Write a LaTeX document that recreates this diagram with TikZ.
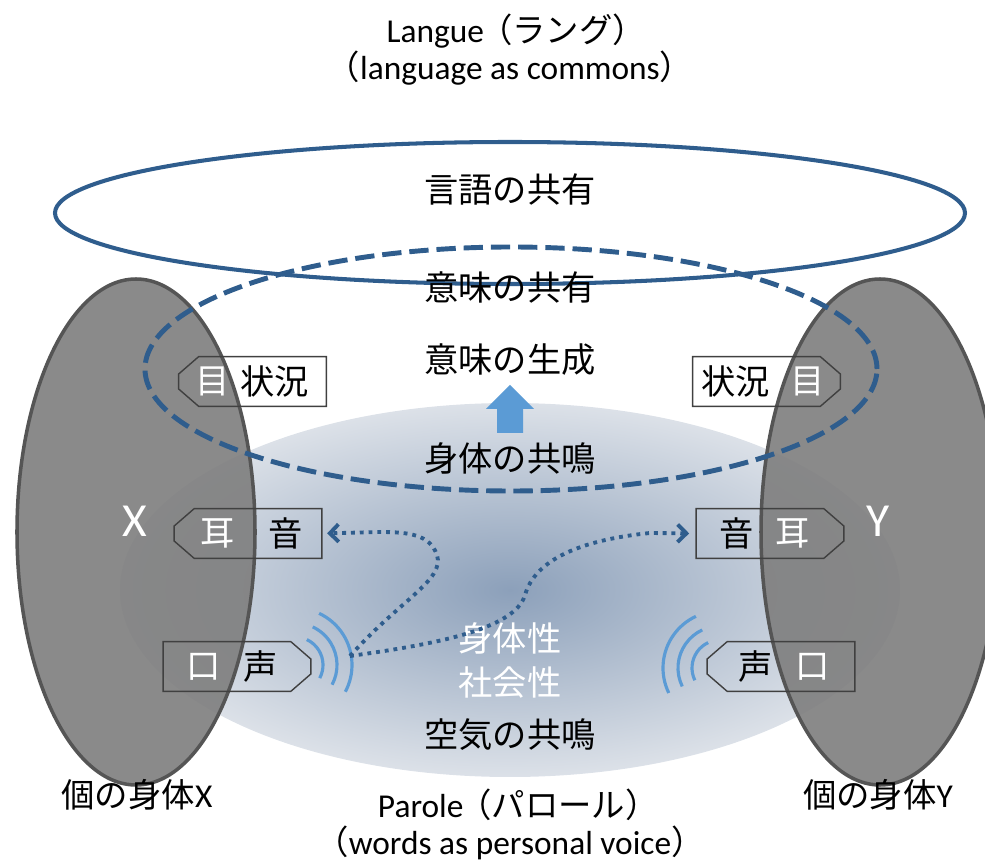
\documentclass[tikz,border=0pt]{standalone}
\usepackage{fontspec}
\setmainfont{Carlito}
\newfontfamily\jpfont{Noto Sans CJK JP}
\usetikzlibrary{arrows.meta,calc}
\definecolor{bluscuro}{RGB}{47,93,141}
\definecolor{bluchiaro}{RGB}{91,155,213}
\definecolor{grigiocorpo}{RGB}{128,128,128}
\definecolor{bordocorpo}{RGB}{85,85,85}
\definecolor{bordocasella}{RGB}{64,64,64}
\definecolor{ariadentro}{RGB}{140,160,186}
\definecolor{ariafuori}{RGB}{220,225,232}
\pgfdeclareradialshading{aria}{\pgfpointorigin}{color(0bp)=(ariadentro); color(25bp)=(ariafuori); color(50bp)=(ariafuori)}
\begin{document}
\begin{tikzpicture}[x=0.02cm, y=0.02cm,
    testo/.style={font=\jpfont\fontsize{19.5}{23}\selectfont, inner sep=0pt},
    latino/.style={font=\fontsize{19}{23}\selectfont, inner sep=0pt},
    lettera/.style={font=\fontsize{27}{30}\selectfont, inner sep=0pt, white},
    casella/.style={minimum width=2.94cm, minimum height=0.98cm, inner sep=0pt},
    bordo/.style={draw=bordocasella, line width=0.8pt},
    onda/.style={draw=bluchiaro, line width=1.8pt},
    freccia/.style={draw=bluscuro, line width=2.2pt, dash pattern=on 2.2pt off 2.8pt, -{Straight Barb[length=5pt,width=10pt]}},
    corpo/.style={fill=grigiocorpo, fill opacity=0.92, draw=bordocorpo, line width=2pt}]
        \useasboundingbox (0,0) rectangle (985,-861);

        %%%%%%%%%% Ellissi %%%%%%%%%%
        \shade[shading=aria] (510,-590) ellipse [x radius=390, y radius=187];
        \draw[bluscuro, line width=2.3pt] (510,-213) ellipse [x radius=455, y radius=71];
        \draw[corpo] (136,-532) ellipse [x radius=119, y radius=253];
        \draw[corpo] (880,-532) ellipse [x radius=119, y radius=253];
        \draw[bluscuro, line width=2.8pt, dash pattern=on 11pt off 4.5pt] (511,-369) ellipse [x radius=366, y radius=122];

        %%%%%%%%%% Caselle %%%%%%%%%%
        \node[casella] (eyeL) at (252.5,-381.5) {};
        \node[casella] (earL) at (248,-533.5) {};
        \node[casella] (mouthL) at (237,-666.5) {};
        \node[casella] (eyeR) at (766.5,-381.5) {};
        \node[casella] (earR) at (770,-533.5) {};
        \node[casella] (mouthR) at (781,-666.5) {};

        \draw[bordo] ($(eyeL.north west)+(20,0)$) -- (eyeL.north east) -- (eyeL.south east) -- ($(eyeL.south west)+(20,0)$) -- ($(eyeL.west)+(0,-7.5)$) -- ($(eyeL.west)+(0,7.5)$) -- cycle;
        \draw[bordo] ($(earL.north west)+(20,0)$) -- (earL.north east) -- (earL.south east) -- ($(earL.south west)+(20,0)$) -- ($(earL.west)+(0,-7.5)$) -- ($(earL.west)+(0,7.5)$) -- cycle;
        \draw[bordo] ($(mouthR.north west)+(20,0)$) -- (mouthR.north east) -- (mouthR.south east) -- ($(mouthR.south west)+(20,0)$) -- ($(mouthR.west)+(0,-7.5)$) -- ($(mouthR.west)+(0,7.5)$) -- cycle;
        \draw[bordo] (mouthL.north west) -- ($(mouthL.north east)+(-20,0)$) -- ($(mouthL.east)+(0,7.5)$) -- ($(mouthL.east)+(0,-7.5)$) -- ($(mouthL.south east)+(-20,0)$) -- (mouthL.south west) -- cycle;
        \draw[bordo] (eyeR.north west) -- ($(eyeR.north east)+(-20,0)$) -- ($(eyeR.east)+(0,7.5)$) -- ($(eyeR.east)+(0,-7.5)$) -- ($(eyeR.south east)+(-20,0)$) -- (eyeR.south west) -- cycle;
        \draw[bordo] (earR.north west) -- ($(earR.north east)+(-20,0)$) -- ($(earR.east)+(0,7.5)$) -- ($(earR.east)+(0,-7.5)$) -- ($(earR.south east)+(-20,0)$) -- (earR.south west) -- cycle;

        \node[testo, white] (eyeLa) at (212.5,-381.5) {目};
        \node[testo] (eyeLb) at (274.5,-381.5) {状況};
        \node[testo, white] (earLa) at (218,-533.5) {耳};
        \node[testo] (earLb) at (286,-533.5) {音};
        \node[testo, white] (mouthLa) at (204,-666.5) {口};
        \node[testo] (mouthLb) at (260.5,-666.5) {声};
        \node[testo] (eyeRb) at (735.5,-381.5) {状況};
        \node[testo, white] (eyeRa) at (808,-381.5) {目};
        \node[testo] (earRb) at (737,-533.5) {音};
        \node[testo, white] (earRa) at (793,-533.5) {耳};
        \node[testo] (mouthRb) at (756,-666.5) {声};
        \node[testo, white] (mouthRa) at (812.5,-666.5) {口};

        %%%%%%%%%% Testi %%%%%%%%%%
        \node[latino] (langue) at (508,-31) {Langue\kern-0.15em{\jpfont（ラング）}\kern-0.5em};
        \node[latino] (langueb) at (510,-68) {{\jpfont（}language as commons{\jpfont ）}};
        \node[testo] (lingua) at (510,-190) {言語の共有};
        \node[testo] (sensoC) at (510,-288) {意味の共有};
        \node[testo] (sensoG) at (510,-360) {意味の生成};
        \node[testo] (risCorpo) at (510,-458) {身体の共鳴};
        \node[testo, white] (fisico) at (510,-638) {身体性};
        \node[testo, white] (sociale) at (510,-683) {社会性};
        \node[testo] (risAria) at (510,-735) {空気の共鳴};
        \node[lettera] (X) at (135,-521) {X};
        \node[lettera] (Y) at (878,-521) {Y};
        \node[latino] (corpoX) at (137,-795) {{\jpfont 個の身体}X};
        \node[latino] (corpoY) at (878,-795) {{\jpfont 個の身体}Y};
        \node[latino] (parole) at (510,-805) {Parole\kern-0.15em{\jpfont（パロール）}\kern-0.5em};
        \node[latino] (paroleb) at (510,-843) {{\jpfont（}words as personal voice{\jpfont ）}};

        %%%%%%%%%% Onde %%%%%%%%%%
        \coordinate (ondaL) at (295,-665);
        \coordinate (ondaR) at (720,-668);
        \draw[onda] ([shift={(-28:28)}]ondaL) arc[start angle=-28, end angle=65, radius=28];
        \draw[onda] ([shift={(-28:42)}]ondaL) arc[start angle=-28, end angle=65, radius=42];
        \draw[onda] ([shift={(-28:57)}]ondaL) arc[start angle=-28, end angle=65, radius=57];
        \draw[onda] ([shift={(115:28)}]ondaR) arc[start angle=115, end angle=206, radius=28];
        \draw[onda] ([shift={(115:42)}]ondaR) arc[start angle=115, end angle=206, radius=42];
        \draw[onda] ([shift={(115:57)}]ondaR) arc[start angle=115, end angle=206, radius=57];

        %%%%%%%%%% Frecce %%%%%%%%%%
        \fill[bluchiaro] (497,-433) -- (523,-433) -- (523,-409) -- (534,-409) -- (510,-385) -- (486,-409) -- (497,-409) -- cycle;
        \coordinate (voce) at (350,-656);
        \draw[freccia, shorten >=3pt] (voce) .. controls (400,-600) and (445,-580) .. (437,-555) .. controls (430,-535) and (410,-532) .. (380,-532) -- (earL.east);
        \draw[freccia, shorten >=4pt] (voce) .. controls (430,-645) and (515,-630) .. (525,-595) .. controls (535,-560) and (580,-540) .. (650,-533) -- (earR.west);
\end{tikzpicture}
\end{document}
